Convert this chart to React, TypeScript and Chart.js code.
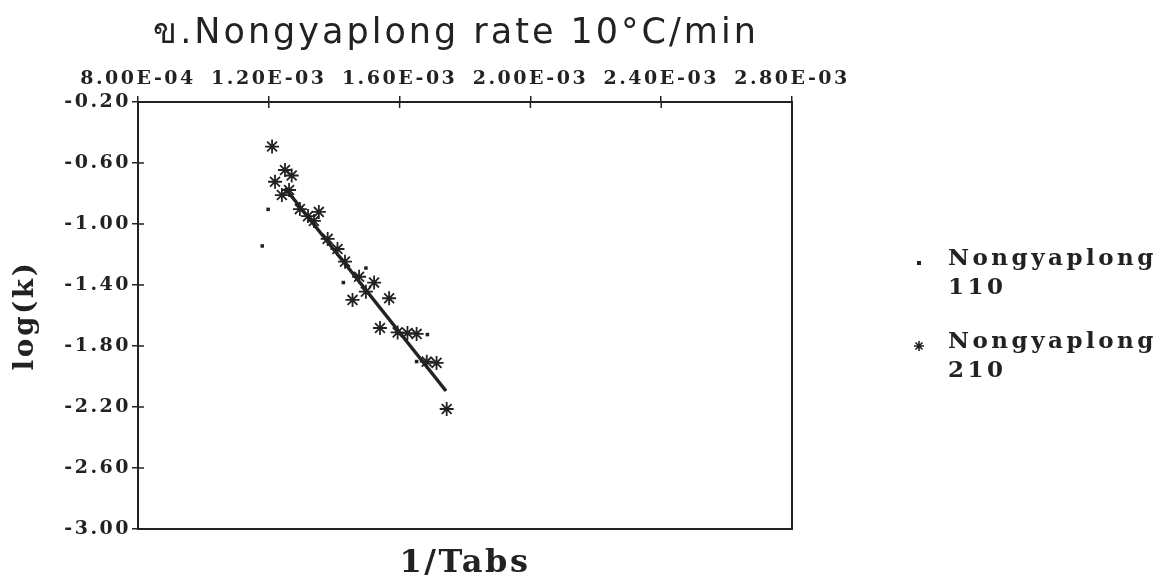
import React, { useEffect, useRef } from "react";
import { Chart, registerables } from "chart.js";

Chart.register(...registerables);

// ---------- text ----------
const TITLE = "ข.Nongyaplong rate 10°C/min";
const X_TITLE = "1/Tabs";
const Y_TITLE = "log(k)";
const SERIES_NAMES = ["Nongyaplong 110", "Nongyaplong 210"];

// ---------- ticks ----------
const X_TICKS = [0.0008, 0.0012, 0.0016, 0.002, 0.0024, 0.0028];
const X_TICK_LABELS = ["8.00E-04", "1.20E-03", "1.60E-03", "2.00E-03", "2.40E-03", "2.80E-03"];
const Y_TICKS = [-3.0, -2.6, -2.2, -1.8, -1.4, -1.0, -0.6, -0.2];
const Y_TICK_LABELS = ["-3.00", "-2.60", "-2.20", "-1.80", "-1.40", "-1.00", "-0.60", "-0.20"];

// ---------- data ----------
const S110_X = [0.00118, 0.001198, 0.001428, 0.001497, 0.001652, 0.001685];
const S110_Y = [-1.144, -0.904, -1.384, -1.289, -1.902, -1.725];

const S210_X = [
  0.00121, 0.0012495, 0.00127, 0.001219, 0.00124, 0.001262, 0.001295, 0.00132,
  0.001353, 0.001338, 0.00138, 0.00141, 0.001433, 0.001476, 0.001522, 0.001497,
  0.001456, 0.001568, 0.00154, 0.001594, 0.001624, 0.001652, 0.001683, 0.001713,
  0.001744,
];
const S210_Y = [
  -0.492, -0.646, -0.682, -0.723, -0.81, -0.777, -0.902, -0.948,
  -0.921, -0.98, -1.098, -1.164, -1.247, -1.346, -1.384, -1.444,
  -1.498, -1.487, -1.682, -1.711, -1.715, -1.721, -1.903, -1.911,
  -2.213,
];

const FIT_X = [0.0012495, 0.001742];
const FIT_Y = [-0.764, -2.095];

const INK = "#222222";
const SERIF = '"DejaVu Serif", "Liberation Serif", serif';

function toPoints(xs: number[], ys: number[]) {
  return xs.map((x, i) => ({ x, y: ys[i] }));
}

function drawMarker(ctx: CanvasRenderingContext2D, style: string, x: number, y: number, r: number) {
  ctx.save();
  ctx.strokeStyle = INK;
  ctx.fillStyle = INK;
  ctx.lineWidth = 1.6;
  if (style === "star") {
    ctx.beginPath();
    for (let k = 0; k < 4; k++) {
      const a = (k * Math.PI) / 4;
      ctx.moveTo(x - Math.cos(a) * r, y - Math.sin(a) * r);
      ctx.lineTo(x + Math.cos(a) * r, y + Math.sin(a) * r);
    }
    ctx.stroke();
  } else {
    ctx.fillRect(x - r, y - r, 2 * r, 2 * r);
  }
  ctx.restore();
}

const decorPlugin = {
  id: "decor",
  beforeDraw(chart: any) {
    chart.ctx.letterSpacing = "2.5px";
  },
  afterDraw(chart: any) {
    const ctx: CanvasRenderingContext2D = chart.ctx;
    const { left, right, top, bottom } = chart.chartArea;
    ctx.save();
    ctx.letterSpacing = "0px";
    // frame
    ctx.strokeStyle = INK;
    ctx.lineWidth = 2;
    ctx.strokeRect(left, top, right - left, bottom - top);
    // inward tick marks
    ctx.lineWidth = 1.5;
    ctx.beginPath();
    const xs = chart.scales.x;
    xs.ticks.forEach((t: any) => {
      const px = xs.getPixelForValue(t.value);
      ctx.moveTo(px, top);
      ctx.lineTo(px, top + 6);
    });
    const ys = chart.scales.y;
    ys.ticks.forEach((t: any) => {
      const py = ys.getPixelForValue(t.value);
      ctx.moveTo(left, py);
      ctx.lineTo(left + 6, py);
    });
    ctx.stroke();

    // title
    ctx.fillStyle = INK;
    ctx.font = '35px "DejaVu Sans", "Noto Sans", sans-serif';
    ctx.letterSpacing = "3px";
    ctx.textAlign = "center";
    ctx.textBaseline = "alphabetic";
    ctx.fillText(TITLE, 456, 43);

    // legend
    const styles = ["rect", "star"];
    const sizes = [2, 5];
    const baseY = [259, 342];
    ctx.font = "bold 23px " + SERIF;
    ctx.letterSpacing = "3.5px";
    ctx.textAlign = "left";
    ctx.textBaseline = "middle";
    SERIES_NAMES.forEach((name, i) => {
      const cut = name.lastIndexOf(" ");
      const lines = [name.slice(0, cut), name.slice(cut + 1)];
      drawMarker(ctx, styles[i], 919, baseY[i] + 4, sizes[i]);
      lines.forEach((ln, j) => ctx.fillText(ln, 948, baseY[i] + j * 29));
    });
    ctx.restore();
  },
};

export default function App() {
  const ref = useRef<HTMLCanvasElement | null>(null);

  useEffect(() => {
    document.body.style.margin = "0";
    const canvas = ref.current;
    if (!canvas) return;

    const tickFont = { family: SERIF, size: 19, weight: "bold" as const };

    const chart = new Chart(canvas, {
      type: "scatter",
      data: {
        datasets: [
          {
            label: SERIES_NAMES[0],
            data: toPoints(S110_X, S110_Y),
            pointStyle: "rect",
            pointRadius: 2.5,
            backgroundColor: INK,
            borderColor: INK,
            borderWidth: 0,
          },
          {
            label: SERIES_NAMES[1],
            data: toPoints(S210_X, S210_Y),
            pointStyle: "star",
            pointRadius: 7,
            borderColor: INK,
            backgroundColor: INK,
            borderWidth: 1.8,
          },
          {
            label: "fit",
            data: toPoints(FIT_X, FIT_Y),
            showLine: true,
            pointRadius: 0,
            borderColor: INK,
            borderWidth: 3.5,
          },
        ],
      },
      options: {
        animation: false,
        responsive: false,
        maintainAspectRatio: false,
        devicePixelRatio: 1,
        layout: { padding: { top: 62, left: 4, right: 366, bottom: 0 } },
        plugins: {
          legend: { display: false },
          title: { display: false },
          tooltip: { enabled: false },
        },
        scales: {
          x: {
            type: "linear",
            position: "top",
            min: X_TICKS[0],
            max: X_TICKS[X_TICKS.length - 1],
            afterBuildTicks: (scale: any) => {
              scale.ticks = X_TICKS.map((v) => ({ value: v }));
            },
            afterFit: (scale: any) => {
              scale.height = 40;
            },
            ticks: {
              color: INK,
              font: tickFont,
              padding: 6,
              maxRotation: 0,
              autoSkip: false,
              callback: (_v: any, i: number) => X_TICK_LABELS[i],
            },
            grid: {
              drawOnChartArea: false,
              drawTicks: true,
              tickLength: 6,
              color: INK,
              lineWidth: 1.5,
            },
            border: { display: false },
          },
          x2: {
            type: "linear",
            position: "bottom",
            min: X_TICKS[0],
            max: X_TICKS[X_TICKS.length - 1],
            afterFit: (scale: any) => {
              scale.height = 56;
            },
            ticks: { display: false },
            grid: { display: false },
            border: { display: false },
            title: {
              display: true,
              text: X_TITLE,
              color: INK,
              font: { family: SERIF, size: 32, weight: "bold" },
              padding: { top: 0, bottom: 2 },
            },
          },
          y: {
            type: "linear",
            position: "left",
            min: Y_TICKS[0],
            max: Y_TICKS[Y_TICKS.length - 1],
            afterBuildTicks: (scale: any) => {
              scale.ticks = Y_TICKS.map((v) => ({ value: v }));
            },
            afterFit: (scale: any) => {
              scale.width = 134;
            },
            ticks: {
              color: INK,
              font: tickFont,
              padding: 1,
              autoSkip: false,
              callback: (_v: any, i: number) => Y_TICK_LABELS[i],
            },
            grid: {
              drawOnChartArea: false,
              drawTicks: true,
              tickLength: 6,
              color: INK,
              lineWidth: 1.5,
            },
            border: { display: false },
            title: {
              display: true,
              text: Y_TITLE,
              color: INK,
              font: { family: SERIF, size: 28, weight: "bold" },
              padding: { top: 5, bottom: 0 },
            },
          },
        },
      },
      plugins: [decorPlugin],
    } as any);

    return () => {
      chart.destroy();
    };
  }, []);

  return (
    <div style={{ width: 1158, height: 585, background: "#ffffff" }}>
      <canvas ref={ref} width={1158} height={585} style={{ display: "block", width: 1158, height: 585 }} />
    </div>
  );
}
